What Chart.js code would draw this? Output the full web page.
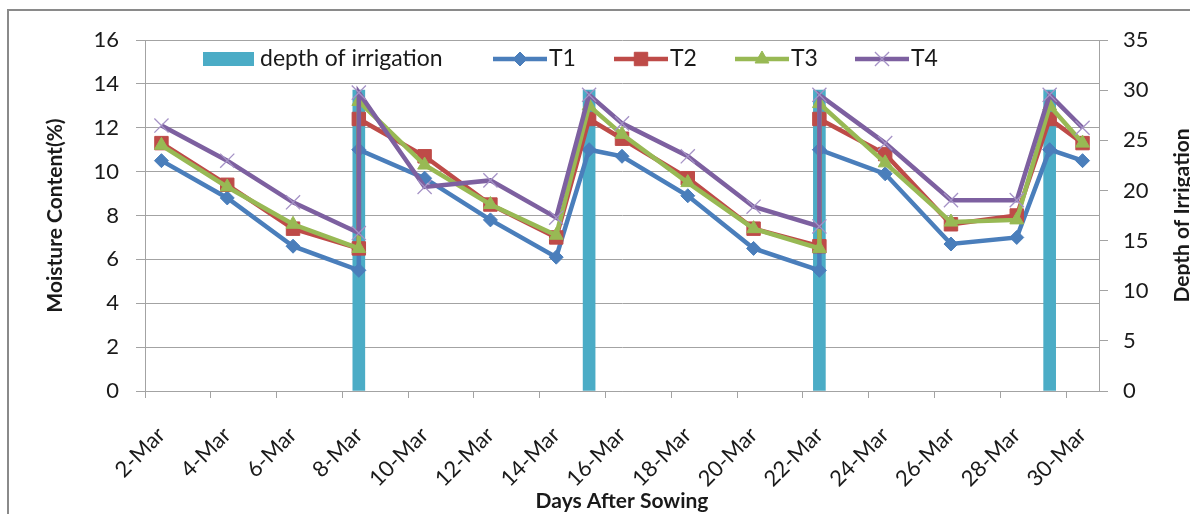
<!DOCTYPE html>
<html>
<head>
<meta charset="utf-8">
<title>Moisture content and depth of irrigation</title>
<script src="https://cdn.jsdelivr.net/npm/chart.js@4.4.1/dist/chart.umd.min.js"></script>
<style>
  html, body { margin: 0; padding: 0; background: #fff; }
  #wrap { width: 1190px; height: 514px; position: relative; overflow: hidden; }
</style>
</head>
<body>
<div id="wrap"><canvas id="moistureChart" width="1190" height="514"></canvas></div>
<script>
// x-axis tick labels (every second day of March)
const tickDays = [2, 4, 6, 8, 10, 12, 14, 16, 18, 20, 22, 24, 26, 28, 30];
const tickLabels = ['2-Mar', '4-Mar', '6-Mar', '8-Mar', '10-Mar', '12-Mar', '14-Mar', '16-Mar',
  '18-Mar', '20-Mar', '22-Mar', '24-Mar', '26-Mar', '28-Mar', '30-Mar'];

// observation days (day of March); irrigation days appear twice (before / after)
const sampleDays = [2, 4, 6, 8, 8, 10, 12, 14, 15, 16, 18, 20, 22, 22, 24, 26, 28, 29, 30];
const t1 = [10.5, 8.8, 6.6, 5.5, 11.0, 9.7, 7.8, 6.1, 11.0, 10.7, 8.9, 6.5, 5.5, 11.0, 9.9, 6.7, 7.0, 11.0, 10.5];
const t2 = [11.3, 9.4, 7.4, 6.5, 12.4, 10.7, 8.5, 7.0, 12.4, 11.5, 9.7, 7.4, 6.6, 12.4, 10.8, 7.6, 8.0, 12.4, 11.3];
const t3 = [11.2, 9.3, 7.6, 6.5, 13.2, 10.3, 8.5, 7.1, 13.0, 11.7, 9.5, 7.4, 6.5, 13.1, 10.4, 7.7, 7.8, 13.0, 11.3];
const t4 = [12.1, 10.5, 8.6, 7.2, 13.6, 9.3, 9.6, 7.9, 13.5, 12.2, 10.7, 8.4, 7.5, 13.5, 11.3, 8.7, 8.7, 13.5, 12.0];

const irrigationDays = [8, 15, 22, 29];
const irrigationDepth = [30, 30, 30, 30];

const FONT = 'Lato, "Open Sans", sans-serif';
const TEXT = '#1a1a1a';
const GRID = '#a3a3a3';

Chart.defaults.font.family = FONT;
Chart.defaults.font.size = 22;
Chart.defaults.color = TEXT;

const toPoints = (xs, ys) => xs.map((x, i) => ({ x, y: ys[i] }));

function lineSet(label, values, color, style, radius, markerColor, markerWidth, order) {
  return {
    type: 'line',
    label,
    data: toPoints(sampleDays, values),
    yAxisID: 'y',
    borderColor: color,
    borderWidth: 4.5,
    tension: 0,
    pointStyle: style,
    pointRadius: radius,
    pointHoverRadius: radius,
    pointBackgroundColor: markerColor,
    pointBorderColor: markerColor,
    pointBorderWidth: markerWidth,
    order
  };
}

// where each legend entry starts, as in the Excel original
const legendStarts = [203, 493, 614, 735, 855];

const decorations = {
  id: 'decorations',
  beforeDraw(chart) {
    const ctx = chart.ctx;
    ctx.save();
    ctx.strokeStyle = '#8a8a8a';
    ctx.lineWidth = 2;
    ctx.strokeRect(8, 10, 1300, 700);
    ctx.restore();
  },
  afterDraw(chart) {
    const ctx = chart.ctx;
    const area = chart.chartArea;

    // right axis title, reads bottom to top like the left one
    ctx.save();
    ctx.translate(1182, (area.top + area.bottom) / 2);
    ctx.rotate(-Math.PI / 2);
    ctx.font = `bold 21px ${FONT}`;
    ctx.fillStyle = TEXT;
    ctx.textAlign = 'center';
    ctx.textBaseline = 'middle';
    ctx.fillText('Depth of Irrigation', 0, 0);
    ctx.restore();

    // legend inside the plot, Excel style (line + marker)
    ctx.save();
    ctx.font = `23px ${FONT}`;
    ctx.textBaseline = 'middle';
    const y = 59;
    chart.data.datasets.forEach((ds, i) => {
      let x = legendStarts[i];
      if (ds.type === 'bar') {
        ctx.fillStyle = ds.backgroundColor;
        ctx.fillRect(x, y - 7, 51, 14);
        x += 57;
      } else {
        ctx.strokeStyle = ds.borderColor;
        ctx.lineWidth = ds.borderWidth;
        ctx.beginPath();
        ctx.moveTo(x, y);
        ctx.lineTo(x + 54, y);
        ctx.stroke();
        ctx.fillStyle = ds.pointBackgroundColor;
        ctx.strokeStyle = ds.pointBorderColor;
        ctx.lineWidth = ds.pointBorderWidth;
        Chart.helpers.drawPoint(ctx, {
          pointStyle: ds.pointStyle,
          radius: ds.pointRadius,
          borderWidth: ds.pointBorderWidth,
          rotation: 0
        }, x + 27, y);
        x += 56;
      }
      ctx.fillStyle = TEXT;
      ctx.fillText(ds.label, x, y);
    });
    ctx.restore();
  }
};

new Chart(document.getElementById('moistureChart'), {
  data: {
    datasets: [
      {
        type: 'bar',
        label: 'depth of irrigation',
        data: toPoints(irrigationDays, irrigationDepth),
        yAxisID: 'yRight',
        backgroundColor: '#4bacc6',
        barThickness: 12,
        order: 5
      },
      lineSet('T1', t1, '#4a7ebb', 'rectRot', 7, '#4a7ebb', 1, 4),
      lineSet('T2', t2, '#be4b48', 'rect', 9.5, '#be4b48', 1, 3),
      lineSet('T3', t3, '#98b954', 'triangle', 8, '#98b954', 1, 2),
      lineSet('T4', t4, '#7d60a0', 'crossRot', 10, '#a592c6', 1.3, 1)
    ]
  },
  options: {
    responsive: false,
    animation: false,
    devicePixelRatio: 1,
    layout: { padding: { top: 40, left: 0, right: 0, bottom: 0 } },
    plugins: {
      legend: { display: false },
      tooltip: { enabled: false }
    },
    scales: {
      x: {
        type: 'linear',
        offset: false,
        min: 1.5,
        max: 30.5,
        afterBuildTicks: scale => {
          scale.ticks = tickDays.map(d => ({ value: d - 0.5 }));
        },
        afterFit: scale => { scale.height = 123; },
        ticks: {
          autoSkip: false,
          minRotation: 45,
          maxRotation: 45,
          labelOffset: 16.4,
          padding: 24,
          callback: (value, index) => tickLabels[index]
        },
        grid: { drawOnChartArea: false, tickLength: 7, color: GRID, offset: false },
        border: { color: GRID },
        title: {
          display: true,
          text: 'Days After Sowing',
          font: { size: 21, weight: 'bold' },
          padding: { top: 0, bottom: 0 }
        }
      },
      y: {
        position: 'left',
        min: 0,
        max: 16,
        afterFit: scale => { scale.width = 145; },
        ticks: { stepSize: 2, padding: 17 },
        grid: { color: GRID, tickLength: 9 },
        border: { color: GRID },
        title: {
          display: true,
          text: 'Moisture Content(%)',
          font: { size: 21, weight: 'bold' },
          padding: { top: 43, bottom: 0 }
        }
      },
      yRight: {
        position: 'right',
        min: 0,
        max: 35,
        afterFit: scale => { scale.width = 91; },
        ticks: { stepSize: 5, padding: 15 },
        grid: { drawOnChartArea: false, tickLength: 9, color: GRID },
        border: { color: GRID }
      }
    }
  },
  plugins: [decorations]
});
</script>
</body>
</html>
